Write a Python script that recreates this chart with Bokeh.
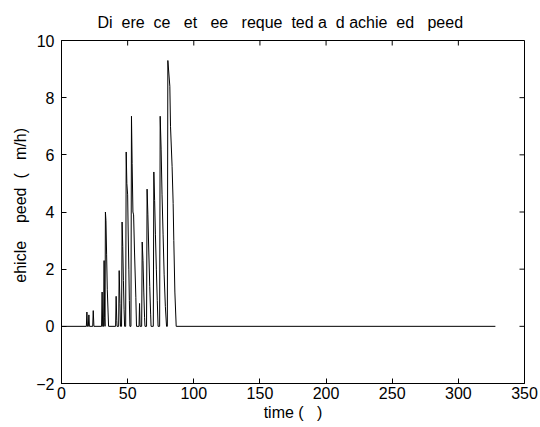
from bokeh.plotting import figure
from bokeh.models import Range1d, FixedTicker
from bokeh.embed import file_html
from bokeh.resources import INLINE

# time (s) and speed difference (km/h)
time_s = [0, 18.8, 19.2, 19.6, 20.3, 20.7, 21.1, 23.6, 24.0, 24.5,
          30.3, 30.7, 31.1, 31.8, 32.2, 32.6, 32.9, 33.2, 33.6, 34.1, 34.6, 35.2, 35.6,
          40.9, 41.3, 41.8, 42.0, 43.2, 43.6, 44.2, 44.6, 45.4, 45.8, 46.3, 46.8, 47.3, 47.7,
          48.5, 48.9, 49.4, 50.0, 50.4, 50.9, 51.3, 51.7,
          52.5, 52.9, 53.4, 54.0, 54.5, 55.2, 56.2, 56.7,
          58.6, 59.0, 59.4, 60.6, 61.0, 61.6, 62.2, 62.8, 63.1,
          64.3, 64.7, 65.3, 66.0, 66.7, 67.4, 67.7,
          69.4, 69.8, 70.4, 71.0, 71.7, 72.4, 73.0,
          74.2, 74.6, 75.3, 76.0, 76.8, 77.6, 78.5, 79.4,
          80.0, 80.4, 81.9, 82.4, 83.6, 84.4, 84.9, 85.7, 86.7, 328.0]
speed = [0, 0, 0.5, 0, 0, 0.4, 0, 0, 0.55, 0,
         0, 1.2, 0, 0, 2.3, 0.3, 0, 4.0, 3.7, 2.5, 1.3, 0.5, 0,
         0, 1.05, 0.2, 0, 0, 1.95, 0.8, 0, 0, 3.65, 2.8, 1.6, 0.6, 0,
         0, 6.1, 5.0, 4.6, 3.3, 2.0, 0.9, 0,
         0, 7.35, 5.7, 4.0, 3.9, 2.6, 1.0, 0,
         0, 0.8, 0, 0, 2.95, 2.3, 1.2, 0.3, 0,
         0, 4.8, 3.9, 2.6, 1.4, 0.4, 0,
         0, 5.4, 4.4, 3.2, 2.0, 0.9, 0,
         0, 7.35, 6.2, 4.6, 3.2, 1.8, 0.7, 0,
         0, 9.3, 8.4, 7.0, 5.6, 4.3, 3.0, 1.2, 0, 0]

x_ticks = [0, 50, 100, 150, 200, 250, 300, 350]
y_ticks = [-2, 0, 2, 4, 6, 8, 10]

NB = "\u00a0"
title_text = ("Di" + NB * 2 + "ere" + NB * 2 + "ce" + NB * 3 + "et" + NB * 3 + "ee" + NB * 3
              + "reque" + NB * 2 + "ted a" + NB * 2 + "d achie" + NB * 2 + "ed" + NB * 3 + "peed")
x_label = "time (" + NB * 3 + ")"
y_label = NB * 3 + "ehicle" + NB * 4 + "peed" + NB * 2 + "(" + NB * 3 + "m/h)"

FONT = "Liberation Sans"
X0, X1, Y0, Y1 = 0, 350, -2, 10
FW, FH = 463, 343

p = figure(frame_width=FW, frame_height=FH, output_backend="svg", toolbar_location=None,
           x_range=Range1d(X0, X1), y_range=Range1d(Y0, Y1),
           min_border_left=61, min_border_right=16, min_border_top=40, min_border_bottom=43)

p.grid.visible = False
p.outline_line_color = "black"
p.outline_line_width = 1
p.background_fill_color = "white"
p.border_fill_color = "white"

p.title.text = title_text
p.title.align = "left"
p.title.offset = 36
p.title.text_font = FONT
p.title.text_font_style = "normal"
p.title.text_font_size = "16px"
p.title.text_color = "black"
p.title.standoff = 19

for ax in (p.xaxis[0], p.yaxis[0]):
    ax.axis_line_color = "black"
    ax.major_tick_line_color = "black"
    ax.major_tick_in = 5
    ax.major_tick_out = 0
    ax.minor_tick_line_color = None
    ax.major_label_text_font = FONT
    ax.major_label_text_font_size = "16px"
    ax.major_label_text_color = "black"
    ax.axis_label_text_font = FONT
    ax.axis_label_text_font_size = "16px"
    ax.axis_label_text_font_style = "normal"
    ax.axis_label_text_color = "black"

p.xaxis[0].ticker = FixedTicker(ticks=x_ticks)
p.yaxis[0].ticker = FixedTicker(ticks=y_ticks)
p.xaxis[0].axis_label = x_label
p.yaxis[0].axis_label = y_label
p.xaxis[0].major_label_standoff = 3
p.xaxis[0].axis_label_standoff = 2
p.yaxis[0].major_label_standoff = 7
p.yaxis[0].axis_label_standoff = 4

# inward ticks on the top and right edges of the box
tick_dy = 5 * (Y1 - Y0) / FH
tick_dx = 5 * (X1 - X0) / FW
p.segment(x0=x_ticks, y0=[Y1] * len(x_ticks), x1=x_ticks, y1=[Y1 - tick_dy] * len(x_ticks),
          line_color="black", line_width=1)
p.segment(x0=[X1] * len(y_ticks), y0=y_ticks, x1=[X1 - tick_dx] * len(y_ticks), y1=y_ticks,
          line_color="black", line_width=1)

p.line(time_s, speed, line_color="black", line_width=1)

open("out.html", "w").write(file_html(p, INLINE))
